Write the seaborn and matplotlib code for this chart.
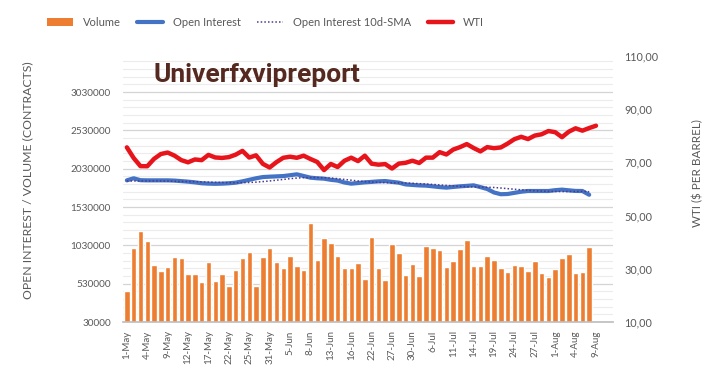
import numpy as np
import pandas as pd
import matplotlib
matplotlib.use("Agg")
import matplotlib.pyplot as plt
from matplotlib.patches import Patch
from matplotlib.lines import Line2D
from matplotlib.ticker import FixedLocator, MultipleLocator, FuncFormatter
import seaborn as sns

# ---- data (1-May .. 9-Aug trading days) --------------------------------------
dates = ["1-May", "2-May", "3-May", "4-May", "5-May", "8-May", "9-May", "10-May",
         "11-May", "12-May", "15-May", "16-May", "17-May", "18-May", "19-May",
         "22-May", "23-May", "24-May", "25-May", "26-May", "30-May", "31-May",
         "1-Jun", "2-Jun", "5-Jun", "6-Jun", "7-Jun", "8-Jun", "9-Jun", "12-Jun",
         "13-Jun", "14-Jun", "15-Jun", "16-Jun", "20-Jun", "21-Jun", "22-Jun",
         "23-Jun", "26-Jun", "27-Jun", "28-Jun", "29-Jun", "30-Jun", "3-Jul",
         "5-Jul", "6-Jul", "7-Jul", "10-Jul", "11-Jul", "12-Jul", "13-Jul",
         "14-Jul", "17-Jul", "18-Jul", "19-Jul", "20-Jul", "21-Jul", "24-Jul",
         "25-Jul", "26-Jul", "27-Jul", "28-Jul", "31-Jul", "1-Aug", "2-Aug",
         "3-Aug", "4-Aug", "7-Aug", "8-Aug", "9-Aug"]

# volume (contracts), up to 8-Aug
volume = [434000, 991000, 1221000, 1087000, 773000, 695000, 743000, 882000,
          869000, 652000, 652000, 556000, 817000, 569000, 652000, 504000,
          708000, 869000, 947000, 504000, 882000, 991000, 817000, 738000,
          895000, 760000, 708000, 1317000, 839000, 1122000, 1056000, 895000,
          738000, 738000, 795000, 587000, 1135000, 730000, 578000, 1043000,
          934000, 639000, 787000, 626000, 1025000, 991000, 965000, 747000,
          826000, 978000, 1100000, 760000, 760000, 895000, 843000, 734000,
          682000, 773000, 760000, 691000, 830000, 665000, 617000, 721000,
          869000, 913000, 665000, 682000, 1004000]

# open interest (contracts), up to 8-Aug
open_interest = [1878000, 1905000, 1880000, 1878000, 1878000, 1878000, 1878000,
                 1875000, 1868000, 1861000, 1852000, 1840000, 1835000, 1833000,
                 1835000, 1840000, 1848000, 1865000, 1885000, 1905000, 1921000,
                 1926000, 1930000, 1934000, 1945000, 1957000, 1935000, 1913000,
                 1905000, 1900000, 1885000, 1875000, 1850000, 1835000, 1843000,
                 1852000, 1858000, 1865000, 1869000, 1858000, 1848000, 1825000,
                 1818000, 1812000, 1809000, 1800000, 1790000, 1783000, 1792000,
                 1800000, 1806000, 1813000, 1790000, 1765000, 1720000, 1697000,
                 1700000, 1715000, 1730000, 1739000, 1739000, 1739000, 1739000,
                 1750000, 1757000, 1748000, 1740000, 1739000, 1690000]

# open interest 10-day SMA, up to 8-Aug
oi_sma = [1870000, 1870000, 1870000, 1870000, 1870000, 1870000, 1868000,
          1866000, 1864000, 1862000, 1860000, 1858000, 1855000, 1852000,
          1850000, 1848000, 1846000, 1848000, 1850000, 1855000, 1862000,
          1870000, 1880000, 1890000, 1900000, 1908000, 1913000, 1915000,
          1915000, 1912000, 1908000, 1900000, 1890000, 1880000, 1870000,
          1862000, 1856000, 1852000, 1848000, 1846000, 1845000, 1843000,
          1840000, 1835000, 1830000, 1825000, 1818000, 1812000, 1806000,
          1800000, 1795000, 1793000, 1790000, 1788000, 1785000, 1778000,
          1770000, 1762000, 1755000, 1748000, 1742000, 1738000, 1735000,
          1733000, 1732000, 1732000, 1733000, 1735000, 1730000]

# WTI ($ per barrel), up to 9-Aug
wti = [75.66, 71.66, 68.60, 68.56, 71.34, 73.16, 73.71, 72.56, 70.87, 70.04,
       71.11, 70.86, 72.83, 71.86, 71.69, 71.99, 72.91, 74.34, 71.83, 72.67,
       69.46, 68.09, 70.10, 71.74, 72.15, 71.74, 72.53, 71.29, 70.17, 67.12,
       69.42, 68.27, 70.62, 71.78, 70.50, 72.53, 69.51, 69.16, 69.37, 67.70,
       69.56, 69.86, 70.64, 69.79, 71.79, 71.80, 73.86, 72.99, 74.83, 75.75,
       76.89, 75.42, 74.15, 75.75, 75.35, 75.63, 77.07, 78.74, 79.63, 78.78,
       80.09, 80.58, 81.80, 81.37, 79.49, 81.55, 82.82, 81.94, 82.92, 83.80]

n_slots = 72          # two empty category slots after 9-Aug

ORANGE = "#ED7D31"
BLUE = "#4472C4"
PURPLE = "#4B3A8C"
RED = "#E8141C"
GREY = "#595959"

oi_df = pd.DataFrame({"pos": np.arange(len(volume)), "volume": volume,
                      "oi": open_interest, "sma": oi_sma})
wti_df = pd.DataFrame({"pos": np.arange(len(wti)), "wti": wti})

sns.set_theme(style="white")
plt.rcParams["font.family"] = ["Lato", "DejaVu Sans"]

fig = plt.figure(figsize=(7.22, 3.76), dpi=100)
ax = fig.add_axes([0.171, 0.1436, 0.678, 0.7074])
ax2 = ax.twinx()

sns.barplot(data=oi_df, x="pos", y="volume", color=ORANGE, saturation=1,
            width=0.8, native_scale=True, ax=ax, zorder=2)
sns.lineplot(data=oi_df, x="pos", y="oi", color=BLUE, lw=3.0, ax=ax, zorder=3)
sns.lineplot(data=oi_df, x="pos", y="sma", color=PURPLE, lw=1.1,
             linestyle=(0, (1, 1.4)), ax=ax, zorder=4)
sns.lineplot(data=wti_df, x="pos", y="wti", color=RED, lw=3.2, ax=ax2, zorder=5)

ax.set_xlim(-0.5, n_slots - 0.5)
ax.set_ylim(30000, 3500000)
ax2.set_ylim(10, 110)

# y axes
ax.yaxis.set_major_locator(FixedLocator(np.arange(30000, 3030001, 500000)))
ax.yaxis.set_minor_locator(FixedLocator(np.arange(130000, 3500000, 100000)))
ax.yaxis.set_major_formatter(FuncFormatter(lambda v, p: f"{int(v)}"))
ax.grid(axis="y", which="major", color="#d4d4d4", lw=0.9, zorder=0)
ax.grid(axis="y", which="minor", color="#ececec", lw=0.8, zorder=0)
ax.set_axisbelow(True)
ax2.yaxis.set_major_locator(FixedLocator(np.arange(10, 111, 20)))
ax2.yaxis.set_major_formatter(FuncFormatter(lambda v, p: f"{v:.2f}".replace(".", ",")))
ax2.grid(False)

ax.tick_params(axis="y", which="both", length=0, pad=9, labelsize=7.2, labelcolor=GREY)
ax2.tick_params(axis="y", length=0, pad=8, labelsize=7.8, labelcolor=GREY)

# x axis: labels every third trading day, tick marks between categories
ax.xaxis.set_major_locator(FixedLocator(np.arange(0, len(dates), 3)))
ax.set_xticklabels(dates[::3], rotation=90)
ax.xaxis.set_minor_locator(MultipleLocator(1, offset=0.5))
ax.tick_params(axis="x", which="major", length=0, pad=6, labelsize=7, labelcolor=GREY)
ax.tick_params(axis="x", which="minor", length=3, color="#bfbfbf", width=0.8)

for a in (ax, ax2):
    for s in ("left", "right", "top"):
        a.spines[s].set_visible(False)
ax.spines["bottom"].set_color("#bfbfbf")
ax2.spines["bottom"].set_visible(False)

ax.set_xlabel("")
ax.set_ylabel("OPEN INTEREST / VOLUME (CONTRACTS)", fontsize=8.8, color=GREY)
ax.yaxis.set_label_coords(-0.185, 0.535)
ax2.set_ylabel("WTI ($ PER BARREL)", fontsize=8.4, color=GREY, rotation=90)
ax2.yaxis.set_label_coords(1.162, 0.56)

# legend
handles = [Patch(facecolor=ORANGE, edgecolor="none"),
           Line2D([], [], color=BLUE, lw=3.0),
           Line2D([], [], color=PURPLE, lw=1.1, linestyle=(0, (1, 1.4))),
           Line2D([], [], color=RED, lw=3.2)]
labels = ["Volume", "Open Interest", "Open Interest 10d-SMA", "WTI"]
fig.legend(handles, labels, loc="center", bbox_to_anchor=(0.368, 0.941), ncol=4,
           frameon=False, fontsize=8.0, handlelength=2.3, handletextpad=0.9,
           columnspacing=1.5, labelcolor=GREY)

# watermark
fig.text(0.212, 0.80, "Univerfxvipreport", fontsize=19, fontweight="bold",
         color="#55291f", ha="left", va="center", family=["Roboto", "DejaVu Sans"])

fig.savefig("out.png", dpi=100)
